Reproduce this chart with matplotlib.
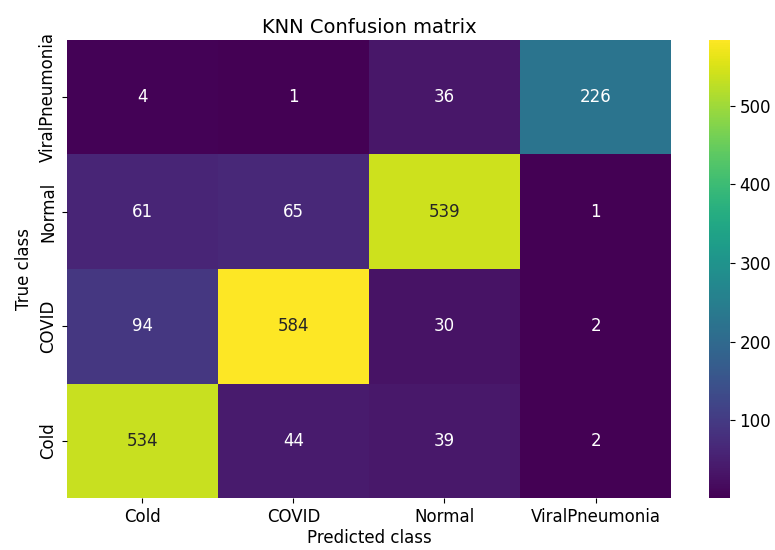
import numpy as np
import matplotlib
matplotlib.use('Agg')
import matplotlib.pyplot as plt
import seaborn as sns

# --- Data ---
classes = ['Cold', 'COVID', 'Normal', 'ViralPneumonia']
# rows = true class, cols = predicted class
cm_cold = [534, 44, 39, 2]
cm_covid = [94, 584, 30, 2]
cm_normal = [61, 65, 539, 1]
cm_viral = [4, 1, 36, 226]
cm = np.array([cm_cold, cm_covid, cm_normal, cm_viral])

# --- Figure ---
fig = plt.figure(figsize=(7.75, 5.5), dpi=100)
ax = fig.add_axes([0.086, 0.094, 0.78, 0.834])
cax = fig.add_axes([0.9145, 0.094, 0.027, 0.834])

sns.heatmap(cm, annot=True, fmt='d', cmap='viridis', ax=ax, cbar_ax=cax,
            xticklabels=classes, yticklabels=classes,
            annot_kws={'fontsize': 12})
ax.invert_yaxis()

ax.set_title('KNN Confusion matrix', fontsize=14, pad=5)
ax.set_xlabel('Predicted class', fontsize=12, labelpad=2)
ax.set_ylabel('True class', fontsize=12)
ax.tick_params(labelsize=12)
plt.setp(ax.get_yticklabels(), rotation=90, va='center')
cax.tick_params(labelsize=12)
cax.set_yticks([100, 200, 300, 400, 500])

plt.savefig('out.png', dpi=100)
